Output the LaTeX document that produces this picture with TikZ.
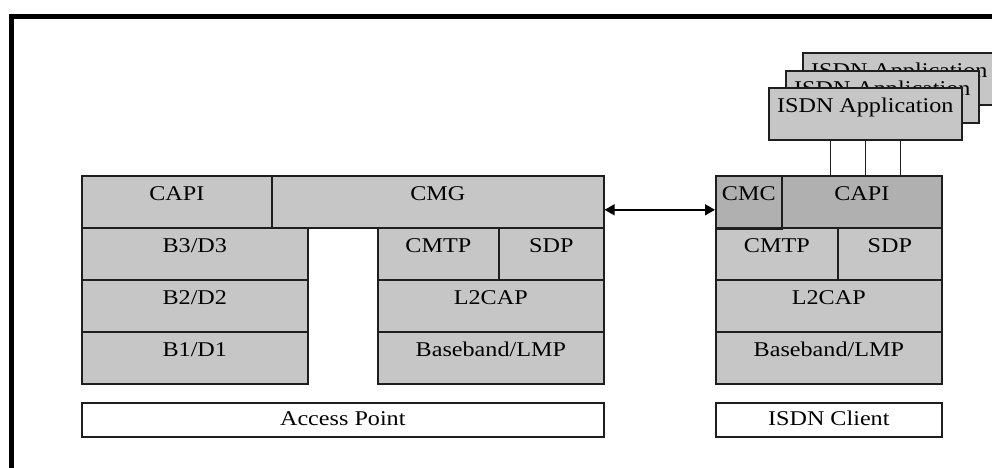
\documentclass[tikz,border=0pt]{standalone}
\usepackage{fontspec}
\setmainfont{Liberation Serif}[FakeStretch=1.15]
\usetikzlibrary{arrows.meta}
\definecolor{cellgray}{HTML}{C6C6C6}
\definecolor{darkcell}{HTML}{B0B0B0}
\definecolor{edge}{HTML}{1E1E1E}

\begin{document}
\begin{tikzpicture}[x=1pt,y=-1pt,
  box/.style={draw=edge, line width=1.6pt, inner sep=0pt, anchor=north west,
    font=\fontsize{21}{24}\selectfont},
  cell/.style={box, fill=cellgray, minimum height=52pt, text height=25pt, text depth=27pt},
  dcell/.style={cell, fill=darkcell},
  namebox/.style={box, fill=white, minimum height=34pt, text height=23pt, text depth=11pt},
  appbox/.style={box, fill=cellgray, minimum width=193pt, minimum height=52pt,
    text height=25pt, text depth=27pt},
  wire/.style={draw=edge, line width=1.6pt},
  link/.style={draw=black, line width=1.5pt,
    {Triangle[length=10pt,width=11pt]}-{Triangle[length=10pt,width=11pt]}}
]
\useasboundingbox (0,0) rectangle (992,467);
\clip (0,0) rectangle (992,467);

% outer frame (runs off the right and bottom edges)
\draw[line width=5.5pt] (11.5,16.5) rectangle (1010,490);

% ---- access point stack ----
\node[cell, minimum width=190pt] (capiL) at (81,175) {CAPI};
\node[cell, minimum width=332pt] (cmg) at (271,175) {CMG};
\node[cell, minimum width=226pt] (b3) at (81,227) {B3/D3};
\node[cell, minimum width=226pt] (b2) at (81,279) {B2/D2};
\node[cell, minimum width=226pt] (b1) at (81,331) {B1/D1};
\node[cell, minimum width=121pt] (cmtpL) at (377,227) {CMTP};
\node[cell, minimum width=105pt] (sdpL) at (498,227) {SDP};
\node[cell, minimum width=226pt] (l2capL) at (377,279) {L2CAP};
\node[cell, minimum width=226pt] (bbL) at (377,331) {Baseband/LMP};
\node[namebox, minimum width=522pt] (ap) at (81,402) {Access Point};

% ---- ISDN client stack ----
\node[dcell, minimum width=66pt] (cmc) at (715,175) {CMC};
\node[dcell, minimum width=160pt] (capiR) at (781,175) {CAPI};
\node[cell, minimum width=122pt] (cmtpR) at (715,227) {CMTP};
\node[cell, minimum width=104pt] (sdpR) at (837,227) {SDP};
\node[cell, minimum width=226pt] (l2capR) at (715,279) {L2CAP};
\node[cell, minimum width=226pt] (bbR) at (715,331) {Baseband/LMP};
\node[namebox, minimum width=226pt] (client) at (715,402) {ISDN Client};
\draw[line width=3pt, edge] (cmc.south west) -- (cmc.south east);

% ---- stacked applications ----
\node[appbox] (app3) at (802,52) {ISDN Application};
\node[appbox] (app2) at (785,70) {ISDN Application};
\node[appbox] (app1) at (768,87) {ISDN Application};

\draw[wire] ([xshift=-35pt]app1.south) -- ([xshift=-35pt]app1.south |- capiR.north);
\draw[wire] (app1.south) -- (app1.south |- capiR.north);
\draw[wire] ([xshift=35pt]app1.south) -- ([xshift=35pt]app1.south |- capiR.north);

% ---- link between the two stacks ----
\draw[link] ([yshift=-8pt]cmg.east) -- ([yshift=-8pt]cmc.west);
\end{tikzpicture}
\end{document}
